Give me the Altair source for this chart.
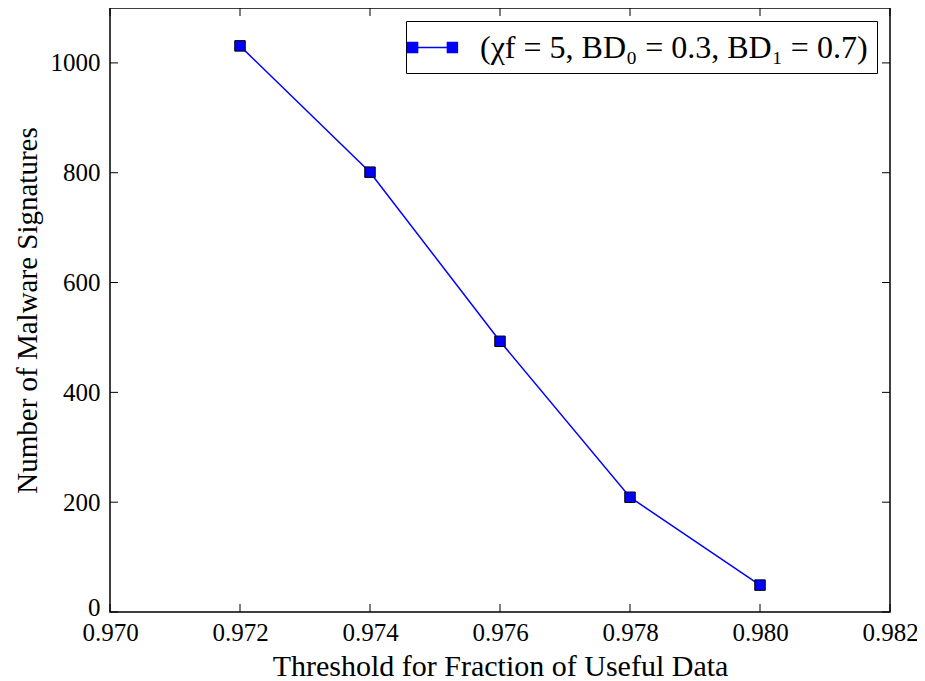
import altair as alt
import pandas as pd

thresholds = [0.972, 0.974, 0.976, 0.978, 0.980]
signatures = [1031, 801, 493, 209, 49]
series_label = "(χf = 5, BD₀ = 0.3, BD₁ = 0.7)"
x_ticks = [0.970, 0.972, 0.974, 0.976, 0.978, 0.980, 0.982]
y_ticks = [0, 200, 400, 600, 800, 1000]

W, H = 780, 604
FONT = "Liberation Serif"

df = pd.DataFrame({"x": thresholds, "y": signatures, "s": [series_label] * len(thresholds)})
xt = pd.DataFrame({"t": x_ticks})
yt = pd.DataFrame({"t": y_ticks})

xscale = alt.Scale(domain=[0.970, 0.982], nice=False, zero=False)
yscale = alt.Scale(domain=[0, 1100], nice=False)

legend_path = ("M-1.5,-0.3 h0.6 v0.6 h-0.6 Z "
               "M0.9,-0.3 h0.6 v0.6 h-0.6 Z "
               "M-0.9,0 H0.9")

line = alt.Chart(df).mark_line(strokeWidth=1.5).encode(
    x=alt.X("x:Q", scale=xscale,
            axis=alt.Axis(values=x_ticks, format=".3f", labelFlush=False,
                          title="Threshold for Fraction of Useful Data")),
    y=alt.Y("y:Q", scale=yscale,
            axis=alt.Axis(values=y_ticks, format="d", labelFlush=True, labelFlushOffset=8,
                          title="Number of Malware Signatures")),
    color=alt.Color("s:N", scale=alt.Scale(range=["#0000ff"]),
                    legend=alt.Legend(title=None, orient="top-right", offset=13,
                                      symbolType=legend_path, symbolSize=1100,
                                      symbolFillColor="#0000ff", symbolStrokeColor="#0000ff",
                                      symbolStrokeWidth=1.5,
                                      labelFont=FONT, labelFontSize=32, labelColor="black",
                                      labelOffset=30, labelLimit=0,
                                      padding=9, strokeColor="black", fillColor="white",
                                      cornerRadius=0)),
)

points = alt.Chart(df).mark_point(shape="square", filled=True, size=110, fill="#0000ff",
                                  stroke="black", strokeWidth=1, opacity=1).encode(
    x=alt.X("x:Q", scale=xscale),
    y=alt.Y("y:Q", scale=yscale),
)

tick_len = 8
bottom_ticks = alt.Chart(xt).mark_rule(color="black", strokeWidth=1).encode(
    x=alt.X("t:Q", scale=xscale), y=alt.value(H), y2=alt.value(H - tick_len))
top_ticks = alt.Chart(xt).mark_rule(color="black", strokeWidth=1).encode(
    x=alt.X("t:Q", scale=xscale), y=alt.value(0), y2=alt.value(tick_len))
left_ticks = alt.Chart(yt).mark_rule(color="black", strokeWidth=1).encode(
    y=alt.Y("t:Q", scale=yscale), x=alt.value(0), x2=alt.value(tick_len))
right_ticks = alt.Chart(yt).mark_rule(color="black", strokeWidth=1).encode(
    y=alt.Y("t:Q", scale=yscale), x=alt.value(W), x2=alt.value(W - tick_len))

chart = alt.layer(bottom_ticks, top_ticks, left_ticks, right_ticks, line, points).properties(
    width=W, height=H,
    autosize=alt.AutoSizeParams(type="none"),
    padding={"left": 102, "top": 0, "right": 27, "bottom": 69},
).configure_view(
    stroke="black", strokeWidth=1.5
).configure_axis(
    domain=False, ticks=False, grid=False,
    labelFont=FONT, labelFontSize=25, labelColor="black",
    titleFont=FONT, titleFontWeight="normal", titleColor="black",
).configure_axisX(
    labelPadding=8, titlePadding=6, titleFontSize=30
).configure_axisY(
    labelPadding=10, titlePadding=8, titleFontSize=29
)

chart.save("out.html", embed_options={"renderer": "svg", "actions": False})
